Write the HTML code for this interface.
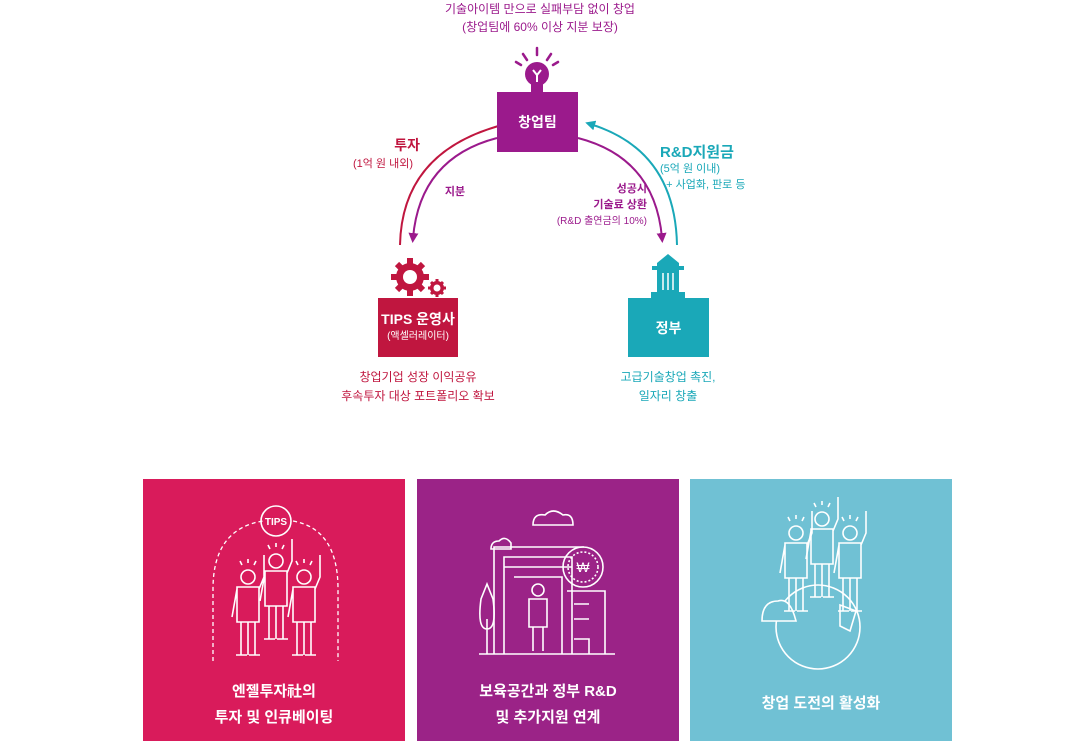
<!DOCTYPE html>
<html><head><meta charset="utf-8"><style>
body{margin:0;width:1078px;height:747px;background:#fff;position:relative;font-family:"Liberation Sans","Noto Sans CJK KR",sans-serif;overflow:hidden}
.t{position:absolute;text-align:center;white-space:nowrap}
.box{position:absolute;color:#fff;text-align:center;display:flex;flex-direction:column;justify-content:center;align-items:center}
.panel{position:absolute;top:479px;width:262px;height:262px;color:#fff}
.pl{position:absolute;left:0;width:100%;text-align:center;font-size:15px;font-weight:bold;line-height:26px}
</style></head><body>
<div class="t" style="left:380px;top:0;width:320px;font-size:12px;line-height:18px;color:#9b1a8c">기술아이템 만으로 실패부담 없이 창업<br>(창업팀에 60% 이상 지분 보장)</div>

<svg style="position:absolute;left:0;top:0" width="1078" height="470">
 <defs>
  <marker id="ar" markerWidth="10" markerHeight="10" refX="5" refY="5" orient="auto" markerUnits="userSpaceOnUse"><path d="M0,0L10,5L0,10z" fill="#c0163f"/></marker>
  <marker id="ap" markerWidth="10" markerHeight="10" refX="5" refY="5" orient="auto" markerUnits="userSpaceOnUse"><path d="M0,0L10,5L0,10z" fill="#9b1a8c"/></marker>
  <marker id="at" markerWidth="10" markerHeight="10" refX="5" refY="5" orient="auto" markerUnits="userSpaceOnUse"><path d="M0,0L10,5L0,10z" fill="#1aa8b8"/></marker>
 </defs>
 <g stroke="#9b1a8c" stroke-width="2.5" stroke-linecap="round">
  <line x1="537" y1="48" x2="537" y2="55"/><line x1="523" y1="54" x2="527" y2="60"/><line x1="551" y1="54" x2="547" y2="60"/><line x1="516" y1="62" x2="521" y2="65"/><line x1="558" y1="62" x2="553" y2="65"/>
 </g>
 <circle cx="537" cy="74" r="12" fill="#9b1a8c"/>
 <rect x="531" y="83" width="12" height="9" fill="#9b1a8c"/>
 <path d="M533,70L537,75L541,70M537,75V82" stroke="#fff" stroke-width="2" fill="none"/>
 <path d="M400,245 Q402,150 506,124" stroke="#c0163f" stroke-width="2" fill="none" marker-end="url(#ar)"/>
 <path d="M497,138 Q420,158 413,238" stroke="#9b1a8c" stroke-width="2" fill="none" marker-end="url(#ap)"/>
 <path d="M578,138 Q655,158 662,238" stroke="#9b1a8c" stroke-width="2" fill="none" marker-end="url(#ap)"/>
 <path d="M677,245 Q675,150 590,124" stroke="#1aa8b8" stroke-width="2" fill="none" marker-end="url(#at)"/>
 <g fill="#c0163f">
  <circle cx="410" cy="277" r="14"/>
  <g stroke="#c0163f" stroke-width="6"><line x1="410" y1="258" x2="410" y2="296"/><line x1="391" y1="277" x2="429" y2="277"/><line x1="397" y1="264" x2="423" y2="290"/><line x1="423" y1="264" x2="397" y2="290"/></g>
  <circle cx="437" cy="288" r="7"/>
  <g stroke="#c0163f" stroke-width="3"><line x1="437" y1="279" x2="437" y2="297"/><line x1="428" y1="288" x2="446" y2="288"/><line x1="431" y1="282" x2="443" y2="294"/><line x1="443" y1="282" x2="431" y2="294"/></g>
 </g>
 <circle cx="410" cy="277" r="7" fill="#fff"/><circle cx="437" cy="288" r="3.5" fill="#fff"/>
 <g fill="#1aa8b8">
  <path d="M657,298V263L668,254L679,263V298z"/>
  <rect x="652" y="266" width="32" height="4"/>
  <rect x="651" y="292" width="34" height="6"/>
 </g>
 <g stroke="#fff" stroke-width="1.5"><line x1="663" y1="273" x2="663" y2="290"/><line x1="668" y1="273" x2="668" y2="290"/><line x1="673" y1="273" x2="673" y2="290"/></g>
</svg>

<div class="box" style="left:497px;top:92px;width:81px;height:60px;background:#9b1a8c;font-size:14px;font-weight:bold">창업팀</div>
<div class="box" style="left:378px;top:298px;width:80px;height:59px;background:#c0163f;font-size:14px;font-weight:bold;line-height:18px">TIPS 운영사<span style="font-size:10px;font-weight:normal">(액셀러레이터)</span></div>
<div class="box" style="left:628px;top:298px;width:81px;height:59px;background:#1aa8b8;font-size:14px;font-weight:bold">정부</div>

<div class="t" style="left:330px;top:136px;width:90px;text-align:right;color:#c0163f;font-size:14px;font-weight:bold;line-height:18px">투자</div>
<div class="t" style="left:320px;top:155px;width:93px;text-align:right;color:#c0163f;font-size:11px">(1억 원 내외)</div>
<div class="t" style="left:440px;top:183px;width:30px;color:#9b1a8c;font-size:11px;font-weight:bold">지분</div>
<div class="t" style="left:535px;top:181px;width:112px;text-align:right;color:#9b1a8c;font-size:11px;line-height:16px"><b>성공시<br>기술료 상환</b><br><span style="font-size:10px">(R&amp;D 출연금의 10%)</span></div>
<div class="t" style="left:660px;top:141px;color:#1aa8b8;font-size:15px;font-weight:bold">R&amp;D지원금</div>
<div class="t" style="left:660px;top:161px;color:#1aa8b8;font-size:11px;line-height:16px;text-align:left">(5억 원 이내)<br>&nbsp;&nbsp;+ 사업화, 판로 등</div>
<div class="t" style="left:318px;top:368px;width:200px;color:#c0163f;font-size:12px;line-height:19px">창업기업 성장 이익공유<br>후속투자 대상 포트폴리오 확보</div>
<div class="t" style="left:588px;top:368px;width:160px;color:#1aa8b8;font-size:12px;line-height:19px">고급기술창업 촉진,<br>일자리 창출</div>

<svg width="0" height="0" style="position:absolute"><defs>
 <g id="man" fill="none" stroke="#fff" stroke-width="1.6">
  <circle cx="0" cy="-40" r="7"/>
  <path d="M-11,-30H11V5H-11z M-11,-28L-16,0 M11,-28L16,-40V-62 M-7,5V38 M7,5V38 M0,5V38 M-12,38H-1 M1,38H12"/>
  <path d="M-6,-52L-8,-56 M0,-54V-58 M6,-52L8,-56"/>
 </g>
</defs></svg>

<div class="panel" style="left:143px;background:#d91b5b">
 <svg width="262" height="262" style="position:absolute;left:0;top:0">
  <path d="M70,182V110Q70,50 120,42 M150,42Q195,50 195,110V182" stroke="#fff" stroke-width="1.3" stroke-dasharray="4,3" fill="none"/>
  <circle cx="133" cy="42" r="15" stroke="#fff" stroke-width="1.6" fill="none"/>
  <text x="133" y="46" fill="#fff" font-size="10" font-weight="bold" text-anchor="middle">TIPS</text>
  <use href="#man" x="133" y="122"/><use href="#man" x="105" y="138"/><use href="#man" x="161" y="138"/>
 </svg>
 <div class="pl" style="top:200px">엔젤투자社의<br>투자 및 인큐베이팅</div>
</div>
<div class="panel" style="left:417px;background:#9b2387">
 <svg width="262" height="262" style="position:absolute;left:0;top:0" fill="none" stroke="#fff" stroke-width="1.6">
  <path d="M116,46Q116,34 128,36Q136,28 146,36Q156,34 156,46z"/>
  <path d="M74,70Q74,62 82,62Q88,56 94,64V70z"/>
  <path d="M62,175H198 M77,175V68H167 M87,175V78H155V175 M87,88H155 M97,98H145V175 M150,112H188V175 M157,125H172 M157,140H172 M157,160H172V175"/>
  <circle cx="166" cy="88" r="20"/><circle cx="166" cy="88" r="15" stroke-dasharray="2,2"/>
  <text x="166" y="93" fill="#fff" stroke="none" font-size="14" text-anchor="middle">₩</text>
  <path d="M70,175V140 M70,150Q60,150 64,120L70,105L76,120Q80,150 70,150"/>
  <circle cx="121" cy="111" r="6"/><path d="M112,120H130V148H112z M116,148V172 M126,148V172"/>
 </svg>
 <div class="pl" style="top:200px">보육공간과 정부 R&amp;D<br>및 추가지원 연계</div>
</div>
<div class="panel" style="left:690px;background:#70c1d4">
 <svg width="262" height="262" style="position:absolute;left:0;top:0">
  <circle cx="128" cy="148" r="42" stroke="#fff" stroke-width="1.6" fill="#70c1d4"/>
  <path d="M72,142Q72,122 88,122Q100,118 106,142z M150,126L166,132L160,152L150,147z" stroke="#fff" stroke-width="1.6" fill="#70c1d4"/>
  <use href="#man" x="132" y="80"/><use href="#man" x="106" y="94"/><use href="#man" x="160" y="94"/>
 </svg>
 <div class="pl" style="top:212px">창업 도전의 활성화</div>
</div>
</body></html>
